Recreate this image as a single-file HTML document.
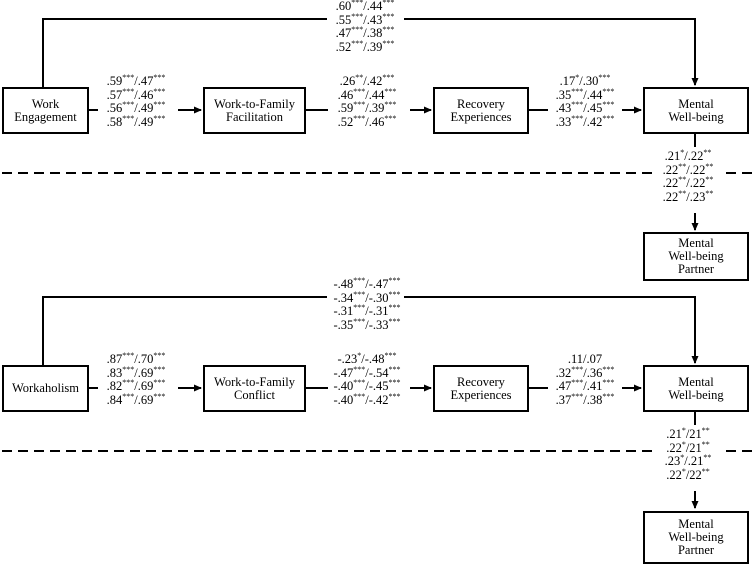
<!DOCTYPE html>
<html><head><meta charset="utf-8"><style>
body{margin:0;background:#fff;}
#w{position:relative;width:756px;height:567px;overflow:hidden;font-family:"Liberation Serif","DejaVu Serif","Times New Roman",serif;color:#000;}
.b{position:absolute;box-sizing:border-box;border:2px solid #000;display:flex;align-items:center;justify-content:center;text-align:center;font-size:12.5px;line-height:13px;background:#fff;}
.l{position:absolute;font-size:12.5px;line-height:13.7px;text-align:center;white-space:nowrap;transform:translateX(-50%);}
sup{font-size:8px;vertical-align:5px;line-height:0;}
svg{position:absolute;left:0;top:0;}
</style></head><body><div id="w">
<svg width="756" height="567">
<defs><marker id="a" markerWidth="8" markerHeight="8" refX="7" refY="4" orient="auto" markerUnits="userSpaceOnUse"><path d="M0,0.5 L8,4 L0,7.5z" fill="#000"/></marker></defs>
<g stroke="#000" stroke-width="2" fill="none">
<g id="s">
<path d="M43,87 V19 H327"/>
<path d="M404,19 H695 V85" marker-end="url(#a)"/>
<path d="M88,110 H98"/>
<path d="M178,110 H201" marker-end="url(#a)"/>
<path d="M305,110 H328"/>
<path d="M410,110 H431" marker-end="url(#a)"/>
<path d="M528,110 H548"/>
<path d="M622,110 H641" marker-end="url(#a)"/>
<path d="M695,133 V147"/>
<path d="M695,213 V230" marker-end="url(#a)"/>
<path d="M2,173 H652 M726,173 H756" stroke-dasharray="10,6"/>
</g>
<use href="#s" transform="translate(0,278)"/>
</g>
</svg>
<div class="b" style="left:2px;top:87px;width:87px;height:47px">Work<br>Engagement</div>
<div class="b" style="left:203px;top:87px;width:103px;height:47px">Work-to-Family<br>Facilitation</div>
<div class="b" style="left:433px;top:87px;width:96px;height:47px">Recovery<br>Experiences</div>
<div class="b" style="left:643px;top:87px;width:106px;height:47px">Mental<br>Well-being</div>
<div class="b" style="left:643px;top:232px;width:106px;height:49px">Mental<br>Well-being<br>Partner</div>

<div class="l" style="left:365px;top:0px">.60<sup>***</sup>/.44<sup>***</sup><br>.55<sup>***</sup>/.43<sup>***</sup><br>.47<sup>***</sup>/.38<sup>***</sup><br>.52<sup>***</sup>/.39<sup>***</sup></div>
<div class="l" style="left:136px;top:75px">.59<sup>***</sup>/.47<sup>***</sup><br>.57<sup>***</sup>/.46<sup>***</sup><br>.56<sup>***</sup>/.49<sup>***</sup><br>.58<sup>***</sup>/.49<sup>***</sup></div>
<div class="l" style="left:367px;top:75px">.26<sup>**</sup>/.42<sup>***</sup><br>.46<sup>***</sup>/.44<sup>***</sup><br>.59<sup>***</sup>/.39<sup>***</sup><br>.52<sup>***</sup>/.46<sup>***</sup></div>
<div class="l" style="left:585px;top:75px">.17<sup>*</sup>/.30<sup>***</sup><br>.35<sup>***</sup>/.44<sup>***</sup><br>.43<sup>***</sup>/.45<sup>***</sup><br>.33<sup>***</sup>/.42<sup>***</sup></div>
<div class="l" style="left:688px;top:150px">.21<sup>*</sup>/.22<sup>**</sup><br>.22<sup>**</sup>/.22<sup>**</sup><br>.22<sup>**</sup>/.22<sup>**</sup><br>.22<sup>**</sup>/.23<sup>**</sup></div>

<div class="b" style="left:2px;top:365px;width:87px;height:47px">Workaholism</div>
<div class="b" style="left:203px;top:365px;width:103px;height:47px">Work-to-Family<br>Conflict</div>
<div class="b" style="left:433px;top:365px;width:96px;height:47px">Recovery<br>Experiences</div>
<div class="b" style="left:643px;top:365px;width:106px;height:47px">Mental<br>Well-being</div>
<div class="b" style="left:643px;top:511px;width:106px;height:53px">Mental<br>Well-being<br>Partner</div>

<div class="l" style="left:367px;top:278px">-.48<sup>***</sup>/-.47<sup>***</sup><br>-.34<sup>***</sup>/-.30<sup>***</sup><br>-.31<sup>***</sup>/-.31<sup>***</sup><br>-.35<sup>***</sup>/-.33<sup>***</sup></div>
<div class="l" style="left:136px;top:353px">.87<sup>***</sup>/.70<sup>***</sup><br>.83<sup>***</sup>/.69<sup>***</sup><br>.82<sup>***</sup>/.69<sup>***</sup><br>.84<sup>***</sup>/.69<sup>***</sup></div>
<div class="l" style="left:367px;top:353px">-.23<sup>*</sup>/-.48<sup>***</sup><br>-.47<sup>***</sup>/-.54<sup>***</sup><br>-.40<sup>***</sup>/-.45<sup>***</sup><br>-.40<sup>***</sup>/-.42<sup>***</sup></div>
<div class="l" style="left:585px;top:353px">.11/.07<br>.32<sup>***</sup>/.36<sup>***</sup><br>.47<sup>***</sup>/.41<sup>***</sup><br>.37<sup>***</sup>/.38<sup>***</sup></div>
<div class="l" style="left:688px;top:428px">.21<sup>*</sup>/21<sup>**</sup><br>.22<sup>*</sup>/21<sup>**</sup><br>.23<sup>*</sup>/.21<sup>**</sup><br>.22<sup>*</sup>/22<sup>**</sup></div>
</div></body></html>
